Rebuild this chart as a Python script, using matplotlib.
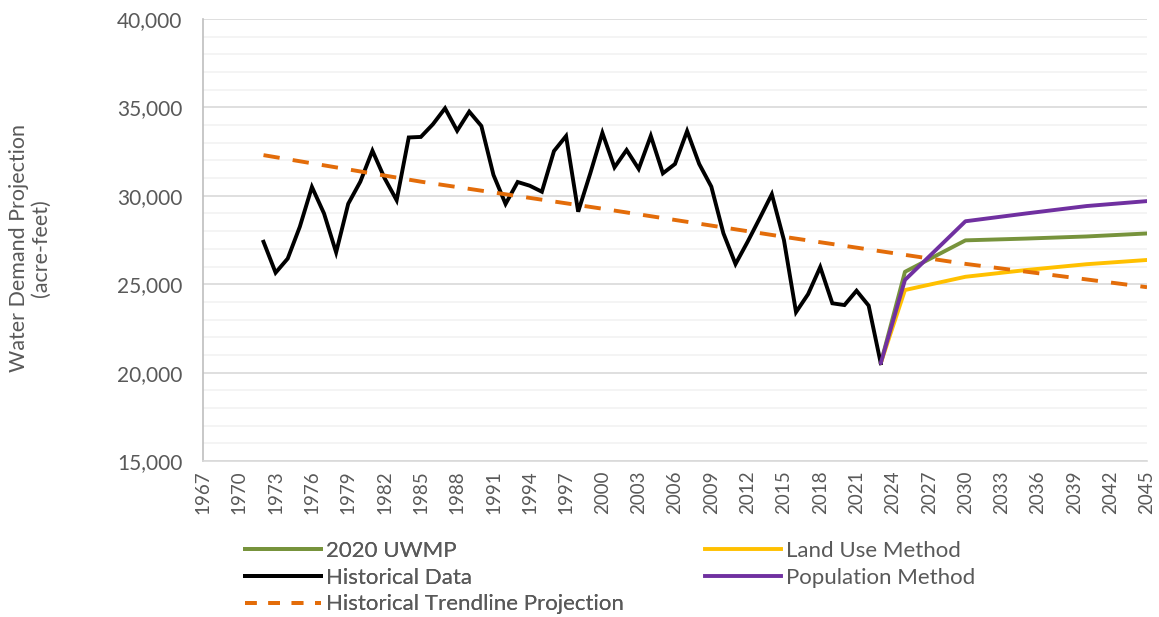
import matplotlib
matplotlib.use("Agg")
import matplotlib.pyplot as plt
from matplotlib.ticker import MultipleLocator, FuncFormatter
from matplotlib.lines import Line2D

# ---------------- data ----------------
hist_years = list(range(1972, 2024))
hist_values = [27400, 25650, 26450, 28250, 30500, 29000, 26800, 29550, 30800, 32550,
               31000, 29750, 33300, 33330, 34050, 34950, 33680, 34760, 33950, 31180,
               29540, 30780, 30570, 30230, 32530, 33380, 29100, 31270, 33560, 31610,
               32590, 31520, 33390, 31270, 31800, 33660, 31800, 30520, 27880, 26140,
               27400, 28730, 30090, 27500, 23420, 24440, 25970, 23920, 23820, 24630,
               23790, 20530]

proj_years = [2023, 2025, 2030, 2035, 2040, 2045]
uwmp_values = [20530, 25700, 27480, 27580, 27700, 27870]
landuse_values = [20530, 24670, 25420, 25800, 26130, 26370]
population_values = [20530, 25240, 28560, 29000, 29420, 29700]

trend_years = [1972, 1985, 2000, 2015, 2030, 2045]
trend_values = [32300, 30800, 29270, 27680, 26150, 24830]

xtick_years = list(range(1967, 2046, 3))

# ---------------- style ----------------
FONT = ["Lato", "DejaVu Sans"]
plt.rcParams["font.family"] = FONT
TXT = "#595959"

fig = plt.figure(figsize=(11.59, 6.17), dpi=100)
W, H = 1159, 617
ax = fig.add_axes([203 / W, 1 - 461 / H, (1147 - 203) / W, (461 - 19) / H])

c_uwmp = "#77933C"
c_land = "#FFC000"
c_hist = "#000000"
c_pop = "#7030A0"
c_trend = "#E36C09"
LW = 2.8

ax.plot(proj_years, uwmp_values, color=c_uwmp, lw=LW, solid_capstyle="round", zorder=3)
ax.plot(proj_years, landuse_values, color=c_land, lw=LW, solid_capstyle="round", zorder=3)
ax.plot(hist_years, hist_values, color=c_hist, lw=LW, solid_joinstyle="miter", zorder=4)
ax.plot(proj_years, population_values, color=c_pop, lw=LW, solid_capstyle="round", zorder=5)
ax.plot(trend_years, trend_values, color=c_trend, lw=LW, dashes=(4.2, 3.4), zorder=4)

ax.set_xlim(1967, 2045)
ax.set_ylim(15000, 40000)

ax.yaxis.set_major_locator(MultipleLocator(5000))
ax.yaxis.set_minor_locator(MultipleLocator(1000))
ax.yaxis.set_major_formatter(FuncFormatter(lambda v, p: f"{int(v):,}"))
ax.grid(which="minor", axis="y", color="#F2F2F2", lw=1.2, zorder=0)
ax.grid(which="major", axis="y", color="#D9D9D9", lw=1.2, zorder=0)
ax.set_axisbelow(True)

ax.set_xticks(xtick_years)
ax.set_xticklabels([str(y) for y in xtick_years], rotation=90)
ax.tick_params(axis="x", length=0, pad=7, labelsize=13.5, colors=TXT)
ax.tick_params(axis="y", which="both", length=0, pad=15, labelsize=15, colors=TXT)

for s in ["top", "right"]:
    ax.spines[s].set_visible(False)
ax.spines["left"].set_color("#BFBFBF")
ax.spines["left"].set_linewidth(1.2)
ax.spines["bottom"].set_color("#D9D9D9")
ax.spines["bottom"].set_linewidth(1.2)

fig.text(30 / W, 1 - 248 / H, "Water Demand Projection\n(acre-feet)", rotation=90,
         ha="center", va="center", fontsize=15.5, color=TXT, linespacing=1.15)

# ---------------- legend ----------------
def handle(color, dashed=False):
    if dashed:
        return Line2D([], [], color=color, lw=LW, dashes=(3.0, 3.0))
    return Line2D([], [], color=color, lw=LW)

leg1 = fig.legend([handle(c_uwmp), handle(c_hist), handle(c_trend, True)],
                  ["2020 UWMP", "Historical Data", "Historical Trendline Projection"],
                  loc="upper left", bbox_to_anchor=(245 / W, 1 - 541 / H),
                  frameon=False, fontsize=16, labelcolor=TXT, handlelength=3.4,
                  handletextpad=0.25, labelspacing=0.3, borderaxespad=0, borderpad=0)
leg2 = fig.legend([handle(c_land), handle(c_pop)],
                  ["Land Use Method", "Population Method"],
                  loc="upper left", bbox_to_anchor=(705 / W, 1 - 541 / H),
                  frameon=False, fontsize=16, labelcolor=TXT, handlelength=3.4,
                  handletextpad=0.25, labelspacing=0.3, borderaxespad=0, borderpad=0)
fig.add_artist(leg1)

fig.savefig("out.png", dpi=100, facecolor="white")
